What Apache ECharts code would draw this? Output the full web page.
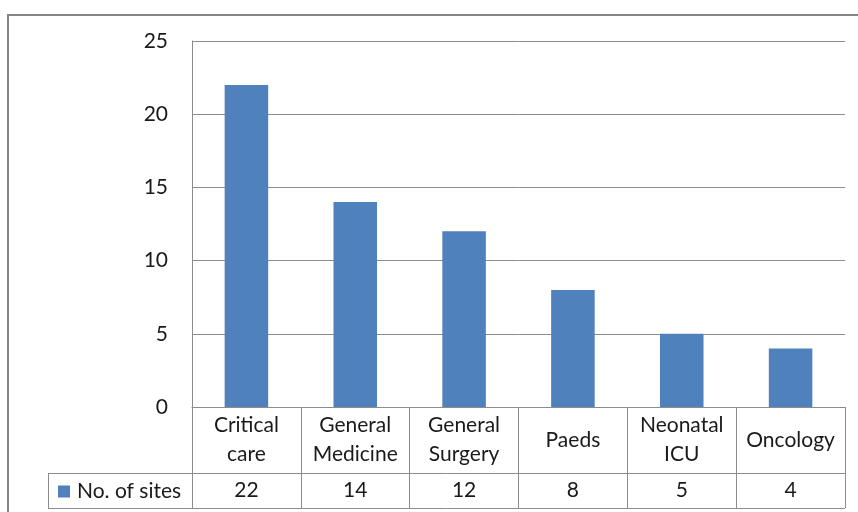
<!DOCTYPE html>
<html>
<head>
<meta charset="utf-8">
<script src="https://cdn.jsdelivr.net/npm/echarts@6/dist/echarts.min.js"></script>
<style>
  html, body { margin: 0; padding: 0; background: #fff; }
  #chart { width: 858px; height: 512px; }
</style>
</head>
<body>
<div id="chart"></div>
<script>
// data
const categories = ['Critical\ncare', 'General\nMedicine', 'General\nSurgery', 'Paeds', 'Neonatal\nICU', 'Oncology']
const sites = [22, 14, 12, 8, 5, 4]
const seriesName = 'No. of sites'
const yTicks = [0, 5, 10, 15, 20, 25]

const lineColor = '#8c8c8c'
const barColor = '#4f81bd'
const textColor = '#1a1a1a'
const font = 'Lato'
const fontSize = 21

// plot + table geometry
const plotLeft = 192, plotRight = 845, plotTop = 41, plotBottom = 407
const rowSplit = 473, tableBottom = 508, legendLeft = 48

const chart = echarts.init(document.getElementById('chart'))
let option = {
  animation: false,
  backgroundColor: '#fff',
  textStyle: { fontFamily: font },
  grid: {
    left: plotLeft,
    right: 858 - plotRight,
    top: plotTop,
    bottom: 512 - plotBottom
  },
  legend: {
    data: [seriesName],
    left: 58,
    top: 481,
    padding: 0,
    icon: 'rect',
    itemWidth: 12,
    itemHeight: 12,
    itemGap: 0,
    textStyle: { fontFamily: font, fontSize: fontSize, color: textColor, padding: [0, 0, 0, 2] }
  },
  xAxis: [
    {
      type: 'category',
      data: categories,
      position: 'bottom',
      axisLine: { show: true, lineStyle: { color: lineColor, width: 1 } },
      axisTick: { show: true, length: tableBottom - plotBottom, lineStyle: { color: lineColor } },
      axisLabel: {
        interval: 0,
        margin: (rowSplit - plotBottom) / 2,
        verticalAlign: 'middle',
        lineHeight: 29,
        fontSize: fontSize,
        fontFamily: font,
        color: textColor
      }
    },
    {
      type: 'category',
      data: sites.map(v => String(v)),
      position: 'bottom',
      offset: rowSplit - plotBottom,
      axisLine: { show: false },
      axisTick: { show: false },
      axisLabel: {
        interval: 0,
        margin: (tableBottom - rowSplit) / 2,
        verticalAlign: 'middle',
        fontSize: fontSize,
        fontFamily: font,
        color: textColor
      }
    }
  ],
  yAxis: {
    type: 'value',
    min: yTicks[0],
    max: yTicks[yTicks.length - 1],
    interval: 5,
    axisLine: { show: true, lineStyle: { color: lineColor, width: 1 } },
    axisTick: { show: false },
    axisLabel: { margin: 24, fontSize: fontSize, fontFamily: font, color: textColor },
    splitLine: { show: true, lineStyle: { color: lineColor, width: 1 } }
  },
  series: [
    {
      name: seriesName,
      type: 'bar',
      xAxisIndex: 0,
      barWidth: '40%',
      itemStyle: { color: barColor },
      data: sites
    }
  ],
  graphic: [
    {
      type: 'rect',
      shape: { x: 8, y: 15, width: 900, height: 600 },
      style: { fill: 'none', stroke: '#868686', lineWidth: 2 },
      silent: true
    },
    {
      type: 'line',
      shape: { x1: legendLeft, y1: rowSplit + 0.5, x2: plotRight, y2: rowSplit + 0.5 },
      style: { stroke: lineColor, lineWidth: 1 }
    },
    {
      type: 'line',
      shape: { x1: legendLeft, y1: tableBottom + 0.5, x2: plotRight, y2: tableBottom + 0.5 },
      style: { stroke: lineColor, lineWidth: 1 }
    },
    {
      type: 'line',
      shape: { x1: legendLeft + 0.5, y1: rowSplit, x2: legendLeft + 0.5, y2: tableBottom + 1 },
      style: { stroke: lineColor, lineWidth: 1 }
    }
  ]
}
chart.setOption(option)
</script>
</body>
</html>
